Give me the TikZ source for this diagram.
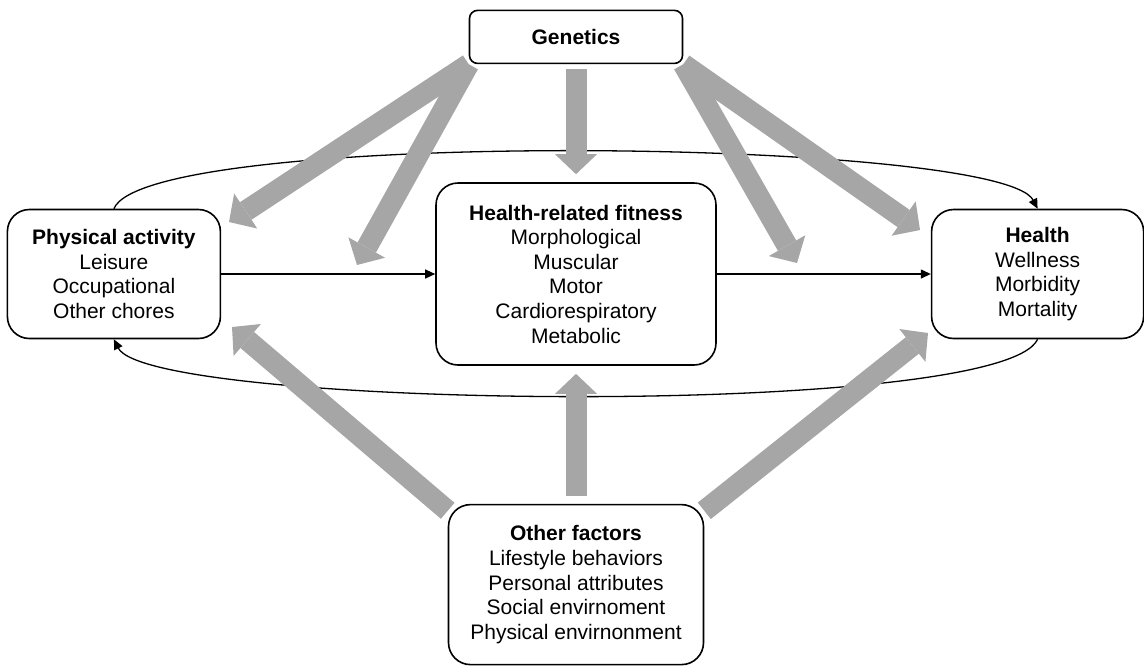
\documentclass[tikz,border=0pt]{standalone}
\usepackage{fontspec}
\setmainfont{Liberation Sans}
\usepackage{tikz}
\usetikzlibrary{positioning,arrows.meta}
\definecolor{gry}{HTML}{A6A6A6}

\begin{document}
\begin{tikzpicture}[x=0.5pt,y=-0.5pt,font=\fontsize{10.5}{12.3}\selectfont,>={Triangle[length=5pt,width=4.5pt]}]
\tikzstyle{b}=[draw,line width=0.8pt,rounded corners=11pt,align=center,inner sep=2pt]
\tikzstyle{g}=[draw=gry,line width=10.5pt,-{Triangle[length=10pt,width=21pt,line width=0pt]}]
\useasboundingbox (0,0) rectangle (1144,666);
% boxes
\node[b,minimum width=140pt,minimum height=91pt] (fit) at (576,274)
  {\textbf{Health-related fitness}\\Morphological\\Muscular\\Motor\\Cardiorespiratory\\Metabolic};
\node[b,minimum width=106.5pt,minimum height=64.5pt,left=107pt of fit] (pa)
  {\textbf{Physical activity}\\Leisure\\Occupational\\Other chores};
\node[b,minimum width=106pt,minimum height=64.5pt,right=107pt of fit] (hlth)
  {\textbf{Health}\\Wellness\\Morbidity\\Mortality};
\node[b,rounded corners=4pt,minimum width=106.5pt,minimum height=26.5pt,above=59pt of fit] (gen)
  {\textbf{Genetics}};
\node[b,minimum width=127.5pt,minimum height=80pt,below=69pt of fit] (oth)
  {\textbf{Other factors}\\Lifestyle behaviors\\Personal attributes\\Social envirnoment\\Physical envirnonment};
% thin links
\draw[->,line width=0.65pt] (pa) -- (fit);
\draw[->,line width=0.65pt] (fit) -- (hlth);
\draw[->,line width=0.65pt] (pa.north) .. controls +(33,-81) and +(-37,-71) .. (hlth.north);
\draw[->,line width=0.65pt] (hlth.south) .. controls +(-37,80) and +(35,70) .. (pa.south);
% broad gray arrows
\coordinate (gpa) at (229,222);
\coordinate (gfl) at (357,265);
\coordinate (gfr) at (797,263);
\coordinate (ghl) at (920,230);
\coordinate (opa) at (232,327);
\coordinate (ohl) at (928,333);
\draw[g] (gen.south west) -- (gpa);
\draw[g] (gen.south west) -- (gfl);
\draw[g,shorten <=2.5pt,shorten >=4pt] (gen) -- (fit);
\draw[g] (gen.south east) -- (gfr);
\draw[g] (gen.south east) -- (ghl);
\draw[g] ([yshift=-3.5pt]oth.north west) -- (opa);
\draw[g,shorten <=4pt,shorten >=4pt] (oth) -- (fit);
\draw[g] ([yshift=-3.5pt]oth.north east) -- (ohl);
\end{tikzpicture}
\end{document}
